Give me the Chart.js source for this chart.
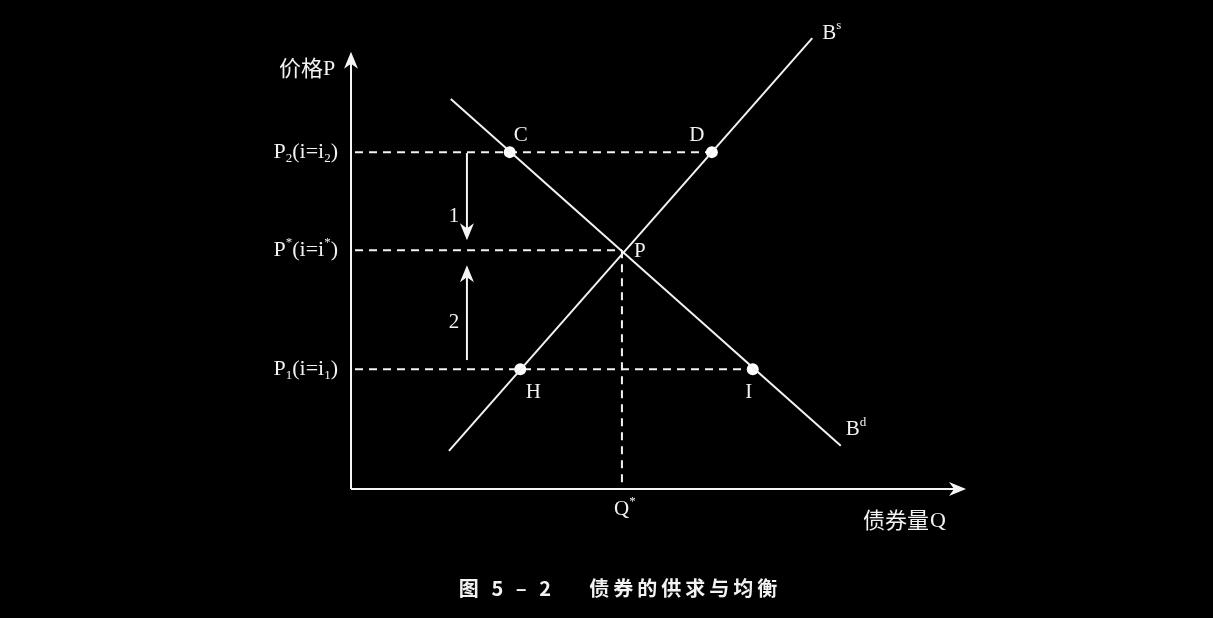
<!DOCTYPE html>
<html>
<head>
<meta charset="utf-8">
<script src="https://cdn.jsdelivr.net/npm/chart.js@4.4.0/dist/chart.umd.min.js"></script>
<style>
  html, body { margin: 0; padding: 0; background: #000; }
  #wrap { width: 1213px; height: 618px; position: relative; }
</style>
</head>
<body>
<div id="wrap"><canvas id="bondChart"></canvas></div>
<script>
// 债券供求曲线 (数量 Q, 价格 P)
const supplyQ = [1.58, 7.44];
const supplyP = [0.84, 9.93];
const demandQ = [1.61, 7.90];
const demandP = [8.59, 0.95];

// 交点与标注点
const pointNames = ['C', 'D', 'P', 'H', 'I'];
const pointQ = [2.56, 5.82, 4.37, 2.73, 6.48];
const pointP = [7.42, 7.42, 5.26, 2.64, 2.64];
const dotNames = ['C', 'D', 'H', 'I'];

// 价格水平 P2, P*, P1 与虚线终点
const priceLevels = [7.42, 5.26, 2.64];
const priceLineEnd = [5.82, 4.37, 6.48];
const qStar = 4.37;

// 调整箭头 1 (向下) 与 2 (向上)
const arrowQ = 1.87;
const arrowFrom = [7.40, 2.84];
const arrowTo = [5.48, 4.93];
const arrowNames = ['1', '2'];

// 坐标轴
const axisMaxQ = 9.92;
const axisMaxP = 9.63;

const SERIF = '"Liberation Serif", "DejaVu Serif", serif';
const CJK = '"Noto Sans CJK SC", sans-serif';

function drawRich(ctx, parts, x, y, size, align) {
  // parts: [text, mode]  mode: 'n' normal, 'sub', 'sup'
  const fontFor = m => (m === 'n' ? size : Math.round(size * 0.6)) + 'px ' + SERIF;
  let total = 0;
  parts.forEach(([t, m]) => { ctx.font = fontFor(m); total += ctx.measureText(t).width; });
  let cx = align === 'right' ? x - total : (align === 'center' ? x - total / 2 : x);
  ctx.textAlign = 'left';
  ctx.textBaseline = 'middle';
  parts.forEach(([t, m]) => {
    ctx.font = fontFor(m);
    const dy = m === 'sub' ? size * 0.3 : (m === 'sup' ? -size * 0.35 : 0);
    ctx.fillText(t, cx, y + dy);
    cx += ctx.measureText(t).width;
  });
}

const priceLabelParts = [
  [['P', 'n'], ['2', 'sub'], ['(i=i', 'n'], ['2', 'sub'], [')', 'n']],
  [['P', 'n'], ['*', 'sup'], ['(i=i', 'n'], ['*', 'sup'], [')', 'n']],
  [['P', 'n'], ['1', 'sub'], ['(i=i', 'n'], ['1', 'sub'], [')', 'n']]
];

const labelOffsets = {
  C: [11, -17], D: [-15, -17], P: [18, 1], H: [13, 23], I: [-4, 23]
};

function arrowHead(ctx, x, y, dir) {
  // dir: 1 = 向下, -1 = 向上, 'r' = 向右
  ctx.beginPath();
  if (dir === 'r') {
    ctx.moveTo(x, y);
    ctx.lineTo(x - 17, y - 7);
    ctx.lineTo(x - 12, y);
    ctx.lineTo(x - 17, y + 7);
  } else {
    ctx.moveTo(x, y);
    ctx.lineTo(x - 7, y - 17 * dir);
    ctx.lineTo(x, y - 12 * dir);
    ctx.lineTo(x + 7, y - 17 * dir);
  }
  ctx.closePath();
  ctx.fill();
}

const decorPlugin = {
  id: 'decor',
  beforeDatasetsDraw(chart) {
    const ctx = chart.ctx;
    const xs = chart.scales.x, ys = chart.scales.y;
    const px = v => xs.getPixelForValue(v);
    const py = v => ys.getPixelForValue(v);
    ctx.save();
    ctx.fillStyle = '#000';
    ctx.fillRect(0, 0, chart.width, chart.height);

    // 虚线
    ctx.strokeStyle = '#f2f2f2';
    ctx.lineWidth = 2;
    ctx.setLineDash([8, 6]);
    priceLevels.forEach((p, i) => {
      ctx.beginPath();
      ctx.moveTo(px(0) + 4, py(p));
      ctx.lineTo(px(priceLineEnd[i]), py(p));
      ctx.stroke();
    });
    ctx.beginPath();
    ctx.moveTo(px(qStar), py(priceLevels[1]));
    ctx.lineTo(px(qStar), py(0));
    ctx.stroke();
    ctx.setLineDash([]);

    // 坐标轴
    ctx.strokeStyle = '#f5f5f5';
    ctx.fillStyle = '#f5f5f5';
    ctx.lineWidth = 2;
    ctx.beginPath();
    ctx.moveTo(px(0), py(0));
    ctx.lineTo(px(0), py(axisMaxP) + 10);
    ctx.moveTo(px(0), py(0));
    ctx.lineTo(px(axisMaxQ) - 10, py(0));
    ctx.stroke();
    arrowHead(ctx, px(0), py(axisMaxP), -1);
    arrowHead(ctx, px(axisMaxQ), py(0), 'r');

    // 调整箭头
    ctx.lineWidth = 2;
    arrowFrom.forEach((f, i) => {
      const t = arrowTo[i];
      const dir = t < f ? 1 : -1;
      ctx.beginPath();
      ctx.moveTo(px(arrowQ), py(f));
      ctx.lineTo(px(arrowQ), py(t) - 10 * dir);
      ctx.stroke();
      arrowHead(ctx, px(arrowQ), py(t), dir);
      drawRich(ctx, [[arrowNames[i], 'n']], px(arrowQ) - 13, (py(f) + py(t)) / 2 + (dir === 1 ? 20 : 10), 21, 'center');
    });
    ctx.restore();
  },
  afterDatasetsDraw(chart) {
    const ctx = chart.ctx;
    const xs = chart.scales.x, ys = chart.scales.y;
    const px = v => xs.getPixelForValue(v);
    const py = v => ys.getPixelForValue(v);
    ctx.save();
    ctx.fillStyle = '#f2f2f2';

    // 价格标签
    priceLevels.forEach((p, i) => {
      drawRich(ctx, priceLabelParts[i], px(0) - 13, py(p), 22, 'right');
    });

    // 点标签
    pointNames.forEach((n, i) => {
      const [dx, dy] = labelOffsets[n];
      drawRich(ctx, [[n, 'n']], px(pointQ[i]) + dx, py(pointP[i]) + dy, 21, 'center');
    });

    // 曲线标签
    drawRich(ctx, [['B', 'n'], ['s', 'sup']], px(supplyQ[1]) + 10, py(supplyP[1]) - 5, 21, 'left');
    drawRich(ctx, [['B', 'n'], ['d', 'sup']], px(demandQ[1]) + 5, py(demandP[1]) - 16, 21, 'left');
    drawRich(ctx, [['Q', 'n'], ['*', 'sup']], px(qStar) + 3, py(0) + 20, 21, 'center');

    // 轴标题
    ctx.textBaseline = 'middle';
    ctx.textAlign = 'left';
    ctx.font = '22px ' + CJK;
    ctx.fillText('价格', 279, 68);
    ctx.font = '22px ' + SERIF;
    ctx.fillText('P', 323, 69);
    ctx.font = '22px ' + CJK;
    ctx.fillText('债券量', 863, 520);
    ctx.font = '22px ' + SERIF;
    ctx.fillText('Q', 930, 521);

    // 图题
    ctx.font = 'bold 20px ' + CJK;
    ctx.textAlign = 'center';
    ctx.letterSpacing = '4px';
    ctx.fillText('图 5 – 2    债券的供求与均衡', 620, 588);
    ctx.restore();
  }
};

const dotData = dotNames.map(n => {
  const i = pointNames.indexOf(n);
  return { x: pointQ[i], y: pointP[i] };
});

new Chart(document.getElementById('bondChart'), {
  type: 'scatter',
  data: {
    datasets: [
      {
        label: 'Bs',
        data: supplyQ.map((q, i) => ({ x: q, y: supplyP[i] })),
        showLine: true,
        borderColor: '#f2f2f2',
        borderWidth: 2,
        pointRadius: 0
      },
      {
        label: 'Bd',
        data: demandQ.map((q, i) => ({ x: q, y: demandP[i] })),
        showLine: true,
        borderColor: '#f2f2f2',
        borderWidth: 2,
        pointRadius: 0
      },
      {
        label: 'points',
        data: dotData,
        showLine: false,
        pointRadius: 6,
        pointBackgroundColor: '#ffffff',
        pointBorderColor: '#ffffff',
        pointBorderWidth: 0
      }
    ]
  },
  options: {
    responsive: true,
    maintainAspectRatio: false,
    animation: false,
    layout: { padding: { left: 351, right: 242, top: 35, bottom: 129 } },
    plugins: {
      legend: { display: false },
      tooltip: { enabled: false }
    },
    scales: {
      x: { type: 'linear', min: 0, max: 10, display: false },
      y: { type: 'linear', min: 0, max: 10, display: false }
    }
  },
  plugins: [decorPlugin]
});
</script>
</body>
</html>
